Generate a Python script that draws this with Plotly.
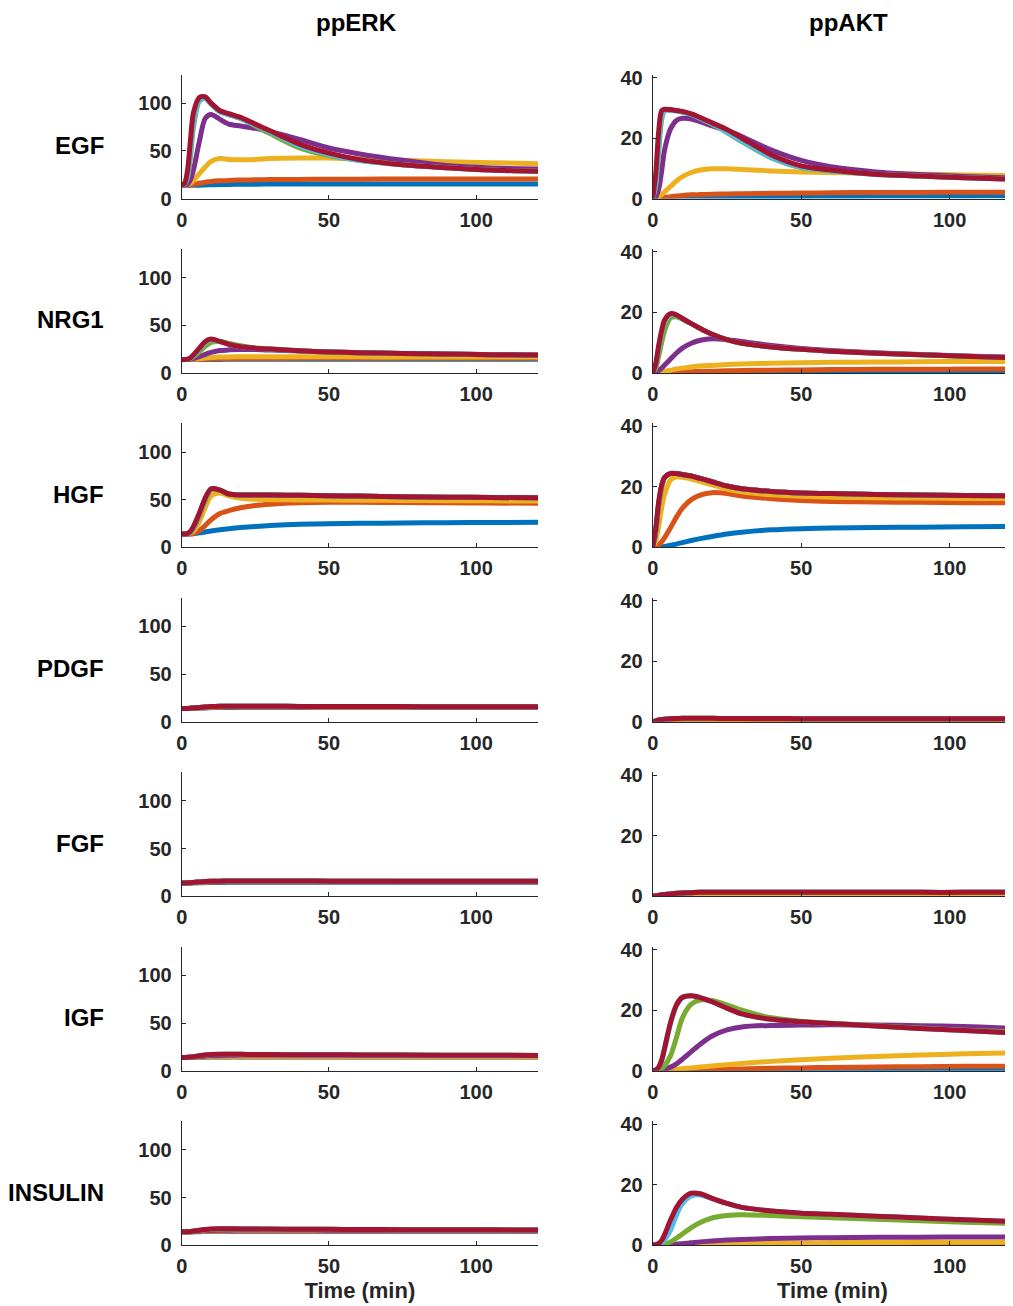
import plotly.graph_objects as go

# time grid (min)
T = [0, 1, 2, 3, 4, 6, 8, 10, 13, 16, 20, 25, 30, 40, 50, 60, 75, 90, 105, 121]

SERIES_COLORS = ["#0072BD", "#D95319", "#EDB120", "#7E2F8E", "#77AC30", "#4DBEEE", "#A2142F"]
ROW_LABELS = ["EGF", "NRG1", "HGF", "PDGF", "FGF", "IGF", "INSULIN"]
COL_TITLES = ["ppERK", "ppAKT"]
X_TICKS = [0, 50, 100]
ERK_TICKS = [0, 50, 100]
AKT_TICKS = [0, 20, 40]

# each panel: [blue, orange, yellow, purple, green, cyan, red]
ERK_EGF = [
    [14, 14, 14, 14, 14, 14, 14.2, 14.4, 14.6, 14.8, 15, 15, 15.2, 15.2, 15.3, 15.3, 15.3, 15.3, 15.3, 15.3],
    [14, 14, 14, 14.3, 14.8, 16, 17, 17.8, 18.5, 19, 19.3, 19.6, 19.8, 20, 20.2, 20.3, 20.4, 20.4, 20.5, 20.5],
    [14, 14, 14.5, 16, 19, 26, 33, 39, 42, 41, 40.5, 41, 42, 42.5, 42.5, 41.5, 40, 38.5, 37.5, 36.5],
    [14, 14, 15, 20, 30, 60, 84, 88, 83, 78, 76, 73.5, 70, 62, 53, 47, 40, 34.5, 32, 31],
    [14, 15, 22, 45, 75, 102, 105, 99, 91, 88, 84, 76, 68, 53, 45, 40, 35.3, 32.2, 29.8, 28.6],
    [14, 15, 24, 50, 80, 103, 105, 99, 91, 88, 84, 77, 70, 55, 46, 40, 35.3, 32.2, 29.8, 28.6],
    [14, 16, 30, 62, 90, 106, 106.5, 100, 92, 89, 85, 78, 71, 57, 47.5, 41, 35.3, 32.2, 29.8, 28.6],
]
AKT_EGF = [
    [0, 0, 0, 0, 0.05, 0.1, 0.15, 0.2, 0.3, 0.35, 0.4, 0.5, 0.55, 0.6, 0.7, 0.75, 0.8, 0.8, 0.85, 0.9],
    [0, 0, 0.1, 0.2, 0.3, 0.6, 0.8, 1, 1.2, 1.3, 1.4, 1.5, 1.6, 1.7, 1.8, 1.9, 2, 2, 2.1, 2.1],
    [0, 0.2, 0.6, 1.3, 2.2, 4, 5.8, 7.2, 8.6, 9.4, 9.8, 9.8, 9.6, 9.1, 8.8, 8.6, 8.3, 8, 7.8, 7.6],
    [0, 0.5, 3, 9, 16, 23, 25.8, 26.5, 26.3, 25.4, 24, 22.5, 20.5, 16, 12.6, 10.5, 8.8, 7.9, 7.3, 6.8],
    [0, 4, 15, 26, 29, 29.2, 29, 28.6, 27.8, 26.5, 24.5, 21.8, 18.8, 13.4, 10.2, 9.2, 8, 7.4, 6.9, 6.4],
    [0, 5, 17, 27, 29, 29.2, 29, 28.6, 27.8, 26.5, 24.7, 22, 19, 13.6, 10.3, 9.2, 8, 7.4, 6.9, 6.4],
    [0, 8, 22, 29, 29.5, 29.4, 29.1, 28.8, 28, 26.8, 25, 22.8, 20, 14.4, 10.8, 9.4, 8, 7.4, 6.9, 6.4],
]
ERK_NRG1 = [
    [14, 14, 14, 14, 14, 14.1, 14.1, 14.2, 14.2, 14.3, 14.3, 14.3, 14.3, 14.4, 14.4, 14.4, 14.4, 14.4, 14.4, 14.4],
    [14, 14, 14, 14, 14.1, 14.3, 14.5, 14.7, 14.9, 15, 15.1, 15.2, 15.2, 15.3, 15.3, 15.3, 15.3, 15.3, 15.3, 15.3],
    [14, 14, 14, 14.1, 14.3, 15, 15.7, 16.2, 16.6, 16.8, 17, 17, 17, 17, 16.9, 16.9, 16.8, 16.7, 16.6, 16.6],
    [14, 14, 14, 14.3, 15, 17, 19.5, 21.5, 23.5, 24.2, 24.5, 24.5, 24, 23, 22, 21.2, 20.4, 19.7, 19.1, 18.6],
    [14, 14, 14.2, 15, 17, 22, 28, 32, 33, 31, 28.5, 26.3, 25, 23.3, 22, 21.3, 20.5, 19.8, 19.2, 18.7],
    [14, 14, 14.4, 15.7, 18.5, 25, 32, 34.8, 33, 30, 27.5, 26, 25, 23.3, 22, 21.3, 20.5, 19.8, 19.2, 18.7],
    [14, 14, 14.5, 16, 19, 26, 33, 35.5, 33, 30, 27.5, 26, 25, 23.3, 22, 21.3, 20.5, 19.8, 19.2, 18.7],
]
AKT_NRG1 = [
    [0, 0, 0, 0, 0.01, 0.02, 0.04, 0.05, 0.07, 0.09, 0.1, 0.12, 0.14, 0.17, 0.2, 0.22, 0.25, 0.27, 0.28, 0.3],
    [0, 0, 0.02, 0.05, 0.08, 0.15, 0.22, 0.3, 0.4, 0.5, 0.6, 0.7, 0.8, 0.9, 1, 1.1, 1.2, 1.2, 1.3, 1.3],
    [0, 0.05, 0.15, 0.3, 0.5, 0.9, 1.3, 1.6, 2, 2.3, 2.5, 2.8, 3, 3.2, 3.4, 3.5, 3.6, 3.7, 3.8, 3.8],
    [0, 0.2, 0.8, 1.6, 2.6, 4.6, 6.6, 8.2, 9.8, 10.8, 11.3, 11, 10.4, 9.1, 8.1, 7.4, 6.7, 6.1, 5.6, 5.2],
    [0, 1.5, 5.5, 10, 14, 18.2, 18.6, 17.8, 16.3, 14.7, 12.8, 11, 9.8, 8.6, 7.8, 7.2, 6.5, 6, 5.5, 5],
    [0, 2.5, 8, 13, 16.8, 19.3, 19, 17.9, 16.3, 14.7, 12.8, 11, 9.8, 8.6, 7.8, 7.2, 6.5, 6, 5.5, 5],
    [0, 3, 9, 14, 17.5, 19.6, 19.2, 18, 16.3, 14.7, 12.8, 11, 9.8, 8.6, 7.8, 7.2, 6.5, 6, 5.5, 5],
]
ERK_HGF = [
    [14, 14, 14, 14.1, 14.4, 15.2, 16.2, 17.2, 18.5, 19.6, 20.8, 22, 23, 24.2, 24.8, 25.2, 25.6, 25.9, 26.1, 26.3],
    [14, 14, 14, 14.2, 14.8, 17.5, 23, 29, 35.5, 38.5, 41.5, 44, 45.3, 46.8, 47.3, 47.3, 47, 46.8, 46.5, 46.3],
    [14, 14, 14, 15, 17, 27, 42, 54, 57, 54, 51.5, 50.5, 50, 49.8, 49.6, 49.5, 49.3, 49, 48.8, 48.6],
    [14, 14, 14.3, 16, 20.5, 34, 50, 61, 60, 56, 55, 55, 55, 54.6, 54.2, 53.8, 53.2, 52.7, 52.3, 52],
    [14, 14, 14.3, 16, 20.5, 34, 50, 61, 60, 56, 55, 55, 55, 54.6, 54.2, 53.8, 53.2, 52.7, 52.3, 52],
    [14, 14, 14.4, 16.5, 21, 35, 51, 61.3, 60, 56, 55, 55, 55, 54.6, 54.2, 53.8, 53.2, 52.7, 52.3, 52],
    [14, 14, 14.5, 17, 22, 36, 52, 61.5, 60, 56, 55, 55, 55, 54.6, 54.2, 53.8, 53.2, 52.7, 52.3, 52],
]
AKT_HGF = [
    [0, 0, 0.05, 0.15, 0.3, 0.7, 1.1, 1.6, 2.3, 2.9, 3.6, 4.4, 5, 5.8, 6.2, 6.4, 6.6, 6.7, 6.8, 6.9],
    [0, 0.2, 0.8, 1.8, 3.2, 6.5, 10, 13, 15.8, 17.3, 18.1, 17.8, 17, 16.1, 15.5, 15.2, 15, 14.9, 14.8, 14.8],
    [0, 2, 7, 13, 17.5, 22.3, 23.3, 23.2, 22.6, 21.8, 20.7, 19.3, 18.4, 17.4, 16.9, 16.6, 16.4, 16.3, 16.2, 16.2],
    [0, 5, 14, 20, 23, 24.4, 24.4, 24.1, 23.6, 22.8, 21.7, 20.3, 19.4, 18.5, 18, 17.8, 17.5, 17.3, 17.2, 17.1],
    [0, 5, 14, 20, 23, 24.4, 24.4, 24.1, 23.6, 22.8, 21.7, 20.3, 19.4, 18.5, 18, 17.8, 17.5, 17.3, 17.2, 17.1],
    [0, 5.5, 14.5, 20.3, 23.1, 24.5, 24.4, 24.1, 23.6, 22.8, 21.7, 20.3, 19.4, 18.5, 18, 17.8, 17.5, 17.3, 17.2, 17.1],
    [0, 6, 15, 20.5, 23.2, 24.5, 24.4, 24.1, 23.6, 22.8, 21.7, 20.3, 19.4, 18.5, 18, 17.8, 17.5, 17.3, 17.2, 17.1],
]
ERK_PDGF = [
    [14, 14, 14, 14.1, 14.2, 14.4, 14.6, 14.8, 15, 15.1, 15.2, 15.2, 15.2, 15.2, 15.2, 15.2, 15.2, 15.2, 15.2, 15.2],
    [14, 14, 14, 14.1, 14.3, 14.6, 14.9, 15.1, 15.4, 15.5, 15.6, 15.6, 15.6, 15.6, 15.5, 15.5, 15.5, 15.5, 15.5, 15.5],
    [14, 14, 14.1, 14.2, 14.4, 14.9, 15.3, 15.6, 15.9, 16, 16.1, 16.1, 16, 16, 15.9, 15.8, 15.8, 15.7, 15.7, 15.7],
    [14, 14, 14.1, 14.3, 14.6, 15.1, 15.6, 16, 16.3, 16.4, 16.4, 16.4, 16.3, 16.2, 16.1, 16, 16, 15.9, 15.9, 15.8],
    [14, 14, 14.1, 14.3, 14.6, 15.1, 15.6, 16, 16.3, 16.4, 16.4, 16.4, 16.3, 16.2, 16.1, 16, 16, 15.9, 15.9, 15.8],
    [14, 14, 14.1, 14.3, 14.6, 15.1, 15.6, 16, 16.3, 16.4, 16.4, 16.4, 16.3, 16.2, 16.1, 16, 16, 15.9, 15.9, 15.8],
    [14, 14, 14.1, 14.3, 14.6, 15.1, 15.6, 16, 16.3, 16.4, 16.4, 16.4, 16.3, 16.2, 16.1, 16, 16, 15.9, 15.9, 15.8],
]
AKT_PDGF = [
    [0, 0, 0.01, 0.02, 0.03, 0.05, 0.07, 0.08, 0.1, 0.1, 0.11, 0.11, 0.11, 0.11, 0.11, 0.11, 0.11, 0.11, 0.11, 0.11],
    [0, 0.02, 0.05, 0.1, 0.14, 0.2, 0.25, 0.28, 0.3, 0.31, 0.32, 0.32, 0.32, 0.32, 0.32, 0.32, 0.32, 0.32, 0.32, 0.32],
    [0, 0.1, 0.25, 0.4, 0.5, 0.6, 0.67, 0.7, 0.72, 0.72, 0.72, 0.72, 0.72, 0.71, 0.71, 0.7, 0.7, 0.7, 0.7, 0.7],
    [0, 0.25, 0.55, 0.75, 0.85, 1, 1.05, 1.1, 1.1, 1.1, 1.1, 1.08, 1.07, 1.05, 1.03, 1.02, 1, 1, 1, 1],
    [0, 0.3, 0.6, 0.8, 0.9, 1.05, 1.1, 1.15, 1.15, 1.15, 1.15, 1.1, 1.1, 1.1, 1.05, 1.05, 1, 1, 1, 1],
    [0, 0.3, 0.6, 0.8, 0.9, 1.05, 1.1, 1.15, 1.15, 1.15, 1.15, 1.1, 1.1, 1.1, 1.05, 1.05, 1, 1, 1, 1],
    [0, 0.3, 0.6, 0.8, 0.9, 1.05, 1.1, 1.15, 1.15, 1.15, 1.15, 1.1, 1.1, 1.1, 1.05, 1.05, 1, 1, 1, 1],
]
ERK_FGF = [
    [14, 14, 14, 14, 14.1, 14.2, 14.3, 14.4, 14.5, 14.6, 14.6, 14.7, 14.7, 14.7, 14.7, 14.7, 14.7, 14.7, 14.7, 14.7],
    [14, 14, 14, 14.1, 14.2, 14.4, 14.7, 14.9, 15.1, 15.2, 15.3, 15.3, 15.3, 15.3, 15.3, 15.3, 15.3, 15.3, 15.3, 15.3],
    [14, 14, 14.1, 14.2, 14.4, 14.8, 15.1, 15.4, 15.6, 15.7, 15.8, 15.8, 15.8, 15.8, 15.7, 15.7, 15.6, 15.6, 15.6, 15.6],
    [14, 14, 14.1, 14.3, 14.6, 15, 15.4, 15.7, 15.9, 16, 16, 16, 16, 16, 15.9, 15.9, 15.8, 15.8, 15.8, 15.7],
    [14, 14, 14.1, 14.3, 14.6, 15, 15.4, 15.7, 15.9, 16, 16, 16, 16, 16, 15.9, 15.9, 15.8, 15.8, 15.8, 15.7],
    [14, 14, 14.1, 14.3, 14.6, 15, 15.4, 15.7, 15.9, 16, 16, 16, 16, 16, 15.9, 15.9, 15.8, 15.8, 15.8, 15.7],
    [14, 14, 14.1, 14.3, 14.6, 15, 15.4, 15.7, 15.9, 16, 16, 16, 16, 16, 15.9, 15.9, 15.8, 15.8, 15.8, 15.7],
]
AKT_FGF = [
    [0, 0, 0, 0.01, 0.02, 0.03, 0.05, 0.06, 0.08, 0.09, 0.1, 0.11, 0.12, 0.12, 0.12, 0.12, 0.12, 0.12, 0.12, 0.12],
    [0, 0.01, 0.03, 0.06, 0.09, 0.15, 0.2, 0.25, 0.3, 0.33, 0.36, 0.38, 0.39, 0.4, 0.4, 0.4, 0.4, 0.4, 0.4, 0.4],
    [0, 0.05, 0.12, 0.2, 0.3, 0.45, 0.6, 0.7, 0.8, 0.85, 0.9, 0.92, 0.93, 0.94, 0.94, 0.94, 0.93, 0.92, 0.92, 0.92],
    [0, 0.1, 0.3, 0.5, 0.6, 0.8, 1, 1.1, 1.2, 1.3, 1.3, 1.35, 1.35, 1.35, 1.35, 1.35, 1.35, 1.3, 1.3, 1.3],
    [0, 0.1, 0.3, 0.5, 0.6, 0.8, 1, 1.1, 1.2, 1.3, 1.3, 1.35, 1.35, 1.35, 1.35, 1.35, 1.35, 1.3, 1.3, 1.3],
    [0, 0.1, 0.3, 0.5, 0.6, 0.8, 1, 1.1, 1.2, 1.3, 1.3, 1.35, 1.35, 1.35, 1.35, 1.35, 1.35, 1.3, 1.3, 1.3],
    [0, 0.1, 0.3, 0.5, 0.6, 0.8, 1, 1.1, 1.2, 1.3, 1.3, 1.35, 1.35, 1.35, 1.35, 1.35, 1.35, 1.3, 1.3, 1.3],
]
ERK_IGF = [
    [14, 14, 14, 14, 14.1, 14.2, 14.3, 14.4, 14.5, 14.5, 14.5, 14.5, 14.5, 14.5, 14.5, 14.5, 14.5, 14.5, 14.5, 14.5],
    [14, 14, 14, 14.1, 14.1, 14.3, 14.5, 14.6, 14.7, 14.8, 14.8, 14.8, 14.8, 14.8, 14.8, 14.8, 14.8, 14.8, 14.8, 14.8],
    [14, 14, 14, 14.1, 14.2, 14.5, 14.8, 15, 15.2, 15.3, 15.3, 15.3, 15.3, 15.3, 15.3, 15.3, 15.3, 15.3, 15.3, 15.3],
    [14, 14, 14, 14.1, 14.3, 14.8, 15.3, 15.7, 16.1, 16.3, 16.4, 16.5, 16.5, 16.4, 16.3, 16.3, 16.2, 16.1, 16, 16],
    [14, 14, 14.1, 14.3, 14.6, 15.4, 16.2, 16.7, 17.1, 17.2, 17.2, 17.1, 17, 16.8, 16.7, 16.6, 16.4, 16.3, 16.2, 16.1],
    [14, 14, 14.1, 14.4, 14.8, 15.7, 16.5, 17, 17.3, 17.3, 17.2, 17.1, 17, 16.8, 16.7, 16.6, 16.4, 16.3, 16.2, 16.1],
    [14, 14, 14.1, 14.4, 14.8, 15.7, 16.5, 17, 17.3, 17.3, 17.2, 17.1, 17, 16.8, 16.7, 16.6, 16.4, 16.3, 16.2, 16.1],
]
AKT_IGF = [
    [0, 0, 0, 0, 0.01, 0.02, 0.04, 0.05, 0.07, 0.08, 0.1, 0.12, 0.13, 0.15, 0.16, 0.17, 0.18, 0.19, 0.2, 0.2],
    [0, 0, 0, 0, 0.02, 0.05, 0.1, 0.15, 0.22, 0.3, 0.4, 0.5, 0.6, 0.8, 0.95, 1.1, 1.25, 1.35, 1.45, 1.5],
    [0, 0, 0.02, 0.05, 0.1, 0.25, 0.45, 0.65, 0.95, 1.25, 1.6, 2, 2.4, 3.1, 3.6, 4.1, 4.7, 5.2, 5.6, 5.9],
    [0, 0, 0.1, 0.3, 0.5, 1.2, 2.3, 3.8, 6.3, 8.8, 11.5, 13.5, 14.5, 15, 15.1, 15.2, 15.1, 14.9, 14.6, 14],
    [0, 0.1, 0.3, 0.8, 1.7, 5, 11, 17.5, 22, 23.4, 23.2, 21.8, 20, 17.5, 16.4, 15.7, 14.9, 14.1, 13.4, 12.9],
    [0, 0.3, 1.1, 3.2, 7, 15.5, 21.5, 24.1, 24.8, 24.2, 22.8, 20.7, 18.8, 17, 16.2, 15.6, 14.8, 14, 13.3, 12.5],
    [0, 0.3, 1.2, 3.5, 7.5, 16, 21.8, 24.3, 24.8, 24.2, 22.8, 20.7, 18.8, 17, 16.2, 15.6, 14.8, 14, 13.3, 12.5],
]
ERK_INSULIN = [
    [14, 14, 14, 14, 14.1, 14.2, 14.3, 14.4, 14.5, 14.5, 14.5, 14.5, 14.5, 14.5, 14.5, 14.5, 14.5, 14.5, 14.5, 14.5],
    [14, 14, 14, 14.1, 14.1, 14.3, 14.5, 14.6, 14.7, 14.8, 14.8, 14.8, 14.8, 14.8, 14.8, 14.8, 14.8, 14.8, 14.8, 14.8],
    [14, 14, 14, 14.1, 14.2, 14.5, 14.8, 15, 15.2, 15.3, 15.3, 15.3, 15.3, 15.3, 15.3, 15.3, 15.3, 15.3, 15.3, 15.3],
    [14, 14, 14, 14.1, 14.3, 14.7, 15.1, 15.4, 15.7, 15.8, 15.9, 15.9, 15.9, 15.9, 15.8, 15.8, 15.7, 15.7, 15.6, 15.6],
    [14, 14, 14.1, 14.2, 14.5, 15.2, 15.9, 16.4, 16.8, 16.9, 16.9, 16.9, 16.8, 16.7, 16.6, 16.5, 16.3, 16.2, 16.1, 16],
    [14, 14, 14.1, 14.4, 14.8, 15.7, 16.4, 16.9, 17.2, 17.2, 17.1, 17, 16.9, 16.8, 16.6, 16.5, 16.3, 16.2, 16.1, 16],
    [14, 14, 14.1, 14.4, 14.8, 15.7, 16.4, 16.9, 17.2, 17.2, 17.1, 17, 16.9, 16.8, 16.6, 16.5, 16.3, 16.2, 16.1, 16],
]
AKT_INSULIN = [
    [0, 0, 0, 0, 0, 0.01, 0.01, 0.02, 0.03, 0.03, 0.04, 0.05, 0.05, 0.06, 0.06, 0.07, 0.07, 0.07, 0.08, 0.08],
    [0, 0, 0, 0, 0, 0.01, 0.02, 0.03, 0.05, 0.06, 0.08, 0.1, 0.12, 0.15, 0.17, 0.19, 0.21, 0.22, 0.23, 0.24],
    [0, 0, 0, 0, 0, 0.02, 0.05, 0.1, 0.15, 0.2, 0.3, 0.4, 0.5, 0.6, 0.7, 0.8, 0.9, 0.95, 1, 1],
    [0, 0, 0, 0.02, 0.05, 0.15, 0.3, 0.5, 0.8, 1.1, 1.4, 1.7, 1.9, 2.2, 2.4, 2.5, 2.6, 2.65, 2.7, 2.7],
    [0, 0, 0.05, 0.15, 0.35, 1.1, 2.3, 3.7, 5.8, 7.5, 9, 9.8, 10.1, 9.8, 9.4, 9.1, 8.6, 8.1, 7.6, 7.2],
    [0, 0.1, 0.3, 0.8, 1.8, 5, 10, 13.8, 16.3, 16.6, 15.4, 13.8, 12.5, 11.3, 10.6, 10.2, 9.6, 9, 8.4, 7.8],
    [0, 0.2, 0.6, 1.6, 3.5, 8.3, 12.5, 15.2, 17.2, 17, 15.5, 13.8, 12.5, 11.3, 10.6, 10.2, 9.6, 9, 8.4, 7.8],
]

PANELS = [
    (ERK_EGF, AKT_EGF),
    (ERK_NRG1, AKT_NRG1),
    (ERK_HGF, AKT_HGF),
    (ERK_PDGF, AKT_PDGF),
    (ERK_FGF, AKT_FGF),
    (ERK_IGF, AKT_IGF),
    (ERK_INSULIN, AKT_INSULIN),
]

# ---------------- layout geometry (target-image pixels) ----------------
PAGE_OFF = 8          # default body margin of the html page
W, H = 1013 - PAGE_OFF, 1306 - PAGE_OFF
COL_X = [(181.7, 538.0), (652.7, 1012.0)]
ROW_BOTTOM0 = 198.5
ROW_PITCH = 174.45
PLOT_H = 124.0
Y_RANGES = [[0, 130], [0, 41]]
Y_TICKS = [ERK_TICKS, AKT_TICKS]

AX_COLOR = "#262626"
FONT = "Liberation Sans, Arial, sans-serif"


def px(xp):
    return (xp - PAGE_OFF) / W


def py(yp):
    return 1 - (yp - PAGE_OFF) / H


fig = go.Figure()
layout = dict(
    width=W, height=H, margin=dict(l=0, r=0, t=0, b=0, autoexpand=False),
    paper_bgcolor="white", plot_bgcolor="white", showlegend=False,
    font=dict(family=FONT, color=AX_COLOR),
)

annotations = []
for r, (erk, akt) in enumerate(PANELS):
    bottom = ROW_BOTTOM0 + ROW_PITCH * r
    top = bottom - PLOT_H
    for c, panel in enumerate((erk, akt)):
        k = r * 2 + c + 1
        xa = "x" if k == 1 else f"x{k}"
        ya = "y" if k == 1 else f"y{k}"
        for s, vals in enumerate(panel):
            fig.add_trace(go.Scatter(
                x=T, y=vals, mode="lines", xaxis=xa, yaxis=ya,
                line=dict(color=SERIES_COLORS[s], width=5, shape="spline", smoothing=0.8),
                hoverinfo="skip",
            ))
        x0, x1 = COL_X[c]
        common = dict(showgrid=False, zeroline=False, showline=True, linecolor=AX_COLOR,
                      linewidth=1, ticks="inside", ticklen=4, tickcolor=AX_COLOR,
                      automargin=False,
                      tickfont=dict(family=FONT, size=20, color=AX_COLOR, weight="bold"))
        xkey = "xaxis" if k == 1 else f"xaxis{k}"
        layout[xkey] = dict(
            domain=[px(x0), min(px(x1), 1.0)], range=[0, 121], anchor=ya,
            tickvals=X_TICKS, ticklabelstandoff=3, **common)
        layout["yaxis" if k == 1 else f"yaxis{k}"] = dict(
            domain=[py(bottom), py(top)], range=Y_RANGES[c], anchor=xa,
            tickvals=Y_TICKS[c], ticklabelstandoff=5, **common)
        if r == len(PANELS) - 1:
            layout[xkey]["title"] = dict(
                text="Time (min)", font=dict(family=FONT, size=22, color=AX_COLOR, weight="bold"),
                standoff=6)
    annotations.append(dict(
        text=ROW_LABELS[r], x=px(106), y=py(bottom - 53), xref="paper", yref="paper",
        xanchor="right", yanchor="middle", showarrow=False,
        font=dict(family=FONT, size=24, color="black", weight="bold")))

for c, title in enumerate(COL_TITLES):
    cx = [356, 848][c]
    annotations.append(dict(
        text=title, x=px(cx), y=1.0, xref="paper", yref="paper",
        xanchor="center", yanchor="top", showarrow=False, borderpad=0,
        font=dict(family=FONT, size=24, color="black", weight="bold")))

layout["annotations"] = annotations
fig.update_layout(**layout)
fig.write_html("out.html")
